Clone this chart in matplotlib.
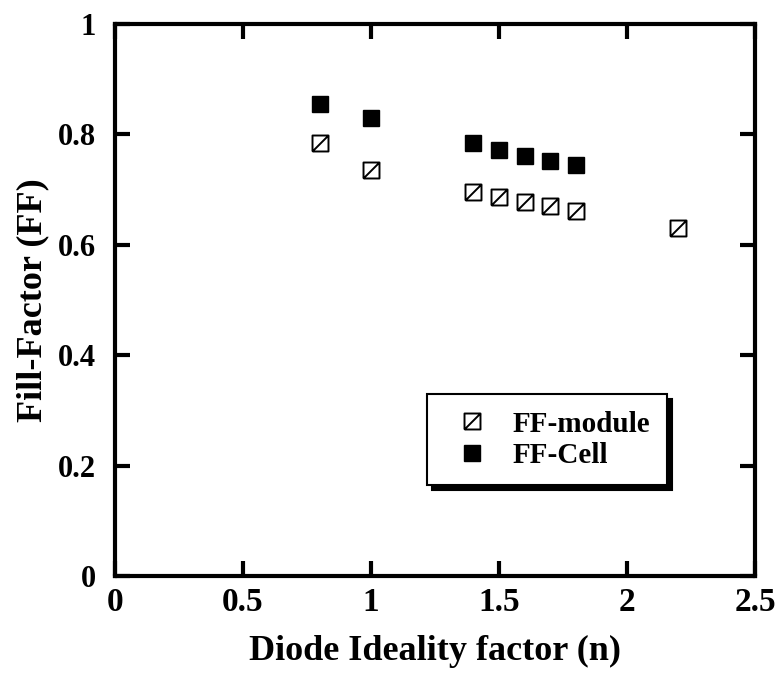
import matplotlib
matplotlib.use('Agg')
import matplotlib.pyplot as plt
from matplotlib.path import Path

n_module = [0.8, 1.0, 1.4, 1.5, 1.6, 1.7, 1.8, 2.2]
ff_module = [0.784, 0.735, 0.696, 0.687, 0.678, 0.670, 0.661, 0.630]
n_cell = [0.8, 1.0, 1.4, 1.5, 1.6, 1.7, 1.8]
ff_cell = [0.855, 0.830, 0.784, 0.772, 0.761, 0.752, 0.745]

x_ticks = [0, 0.5, 1, 1.5, 2, 2.5]
x_labels = ['0', '0.5', '1', '1.5', '2', '2.5']
y_ticks = [0, 0.2, 0.4, 0.6, 0.8, 1]
y_labels = ['0', '0.2', '0.4', '0.6', '0.8', '1']

# square with a diagonal stroke
hatch_square = Path(
    [(-1, -1), (1, -1), (1, 1), (-1, 1), (-1, -1), (-1, -1), (1, 1)],
    [Path.MOVETO, Path.LINETO, Path.LINETO, Path.LINETO, Path.LINETO,
     Path.MOVETO, Path.LINETO])

plt.rcParams['font.family'] = ['Liberation Serif', 'DejaVu Serif']
plt.rcParams['font.weight'] = 'bold'

fig = plt.figure(figsize=(7.81, 6.74), dpi=100)
ax = fig.add_axes([0.1472, 0.1454, 0.8195, 0.819])

ax.plot(n_module, ff_module, linestyle='none', marker=hatch_square,
        markersize=11.5, markerfacecolor='white', markeredgecolor='black',
        markeredgewidth=1.4, label='FF-module')
ax.plot(n_cell, ff_cell, linestyle='none', marker='s', markersize=11.5,
        markerfacecolor='black', markeredgecolor='black', label='FF-Cell')

ax.set_xlim(0, 2.5)
ax.set_ylim(0, 1)
ax.set_xticks(x_ticks)
ax.set_xticklabels(x_labels)
ax.set_yticks(y_ticks)
ax.set_yticklabels(y_labels)
ax.tick_params(direction='in', length=11, width=3, top=True, right=True)
ax.tick_params(axis='x', pad=8, labelsize=24)
ax.tick_params(axis='y', pad=14, labelsize=22)
for s in ax.spines.values():
    s.set_linewidth(3)

ax.set_xlabel('Diode Ideality factor (n)', fontsize=26, fontweight='bold',
              labelpad=12)
ax.set_ylabel('Fill-Factor (FF)', fontsize=26, fontweight='bold', labelpad=6)

leg = ax.legend(loc='lower left', bbox_to_anchor=(0.4875, 0.165), fontsize=21,
                frameon=True, fancybox=False, edgecolor='black',
                shadow={'color': 'black', 'alpha': 1, 'ox': 3.5, 'oy': -3.5},
                handlelength=2, handletextpad=0.4, borderpad=0.55,
                labelspacing=0.15, borderaxespad=0)
leg.get_frame().set_linewidth(1.5)
for t in leg.get_texts():
    t.set_fontweight('bold')

fig.savefig('out.png', dpi=100)
